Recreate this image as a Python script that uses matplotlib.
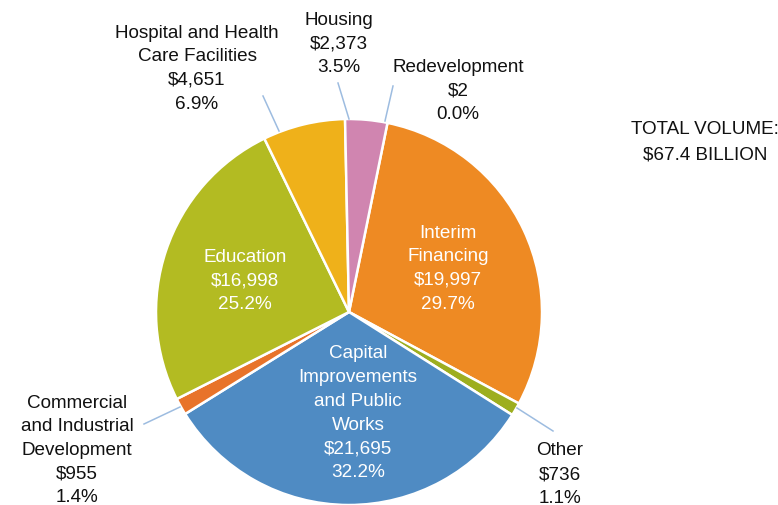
import numpy as np
import matplotlib
matplotlib.use("Agg")
import matplotlib.pyplot as plt

plt.rcParams['font.family'] = ['Liberation Sans', 'DejaVu Sans']

# Slices in clockwise order, starting just right of the top
NAMES = ['Redevelopment', 'Interim\nFinancing', 'Other',
         'Capital\nImprovements\nand Public\nWorks',
         'Commercial\nand Industrial\nDevelopment', 'Education',
         'Hospital and Health\nCare Facilities', 'Housing']
VALUES = [2, 19997, 736, 21695, 955, 16998, 4651, 2373]
COLORS = ['#6CA0D6', '#EE8A23', '#9DAE1F', '#4F8BC3', '#E8732A',
          '#B3BB22', '#EFB11A', '#D085B0']
TOTAL_TEXT = 'TOTAL VOLUME:\n$67.4 BILLION'

W, H = 778, 506
CX, CY, R = 349, H - 313, 193
FS = 13.6

fig = plt.figure(figsize=(W / 100, H / 100), dpi=100)
ax = fig.add_axes([0, 0, 1, 1])

total = sum(VALUES)
ax.pie(VALUES, colors=COLORS, startangle=78.5, counterclock=False,
       center=(CX, CY), radius=R, frame=True,
       wedgeprops=dict(edgecolor='white', linewidth=1.8))
ax.set_xlim(0, W)
ax.set_ylim(0, H)
ax.axis('off')

# label layout: (x, y of first line in px from top, inside?, leader)
layout = {
    'Redevelopment': (458, 67, False, ((393, 87), (385, 122))),
    'Interim\nFinancing': (448, 233, True, None),
    'Other': (560, 451, False, ((553, 432), (517, 409))),
    'Capital\nImprovements\nand Public\nWorks': (358, 354, True, None),
    'Commercial\nand Industrial\nDevelopment': (77, 403, False, ((144, 425), (180, 408))),
    'Education': (245, 257, True, None),
    'Hospital and Health\nCare Facilities': (197, 33, False, ((263, 97), (279, 132))),
    'Housing': (339, 20, False, ((338, 84), (349, 120))),
}

step = 23.7
for name, val in zip(NAMES, VALUES):
    x, y0, inside, leader = layout[name]
    pct = val / total * 100
    text = f"{name}\n${val:,}\n{pct:.1f}%"
    color = 'white' if inside else '#111111'
    lines = text.split('\n')
    for i, line in enumerate(lines):
        ax.text(x, H - (y0 + i * step), line, ha='center', va='center',
                fontsize=FS, color=color)
    if leader is not None:
        (x1, y1), (x2, y2) = leader
        ax.plot([x1, x2], [H - y1, H - y2], color='#9DBCE0', lw=1.1)

for i, line in enumerate(TOTAL_TEXT.split('\n')):
    ax.text(705, H - (129 + i * 26), line, ha='center', va='center',
            fontsize=FS, color='#111111')

fig.savefig('out.png', dpi=100)
